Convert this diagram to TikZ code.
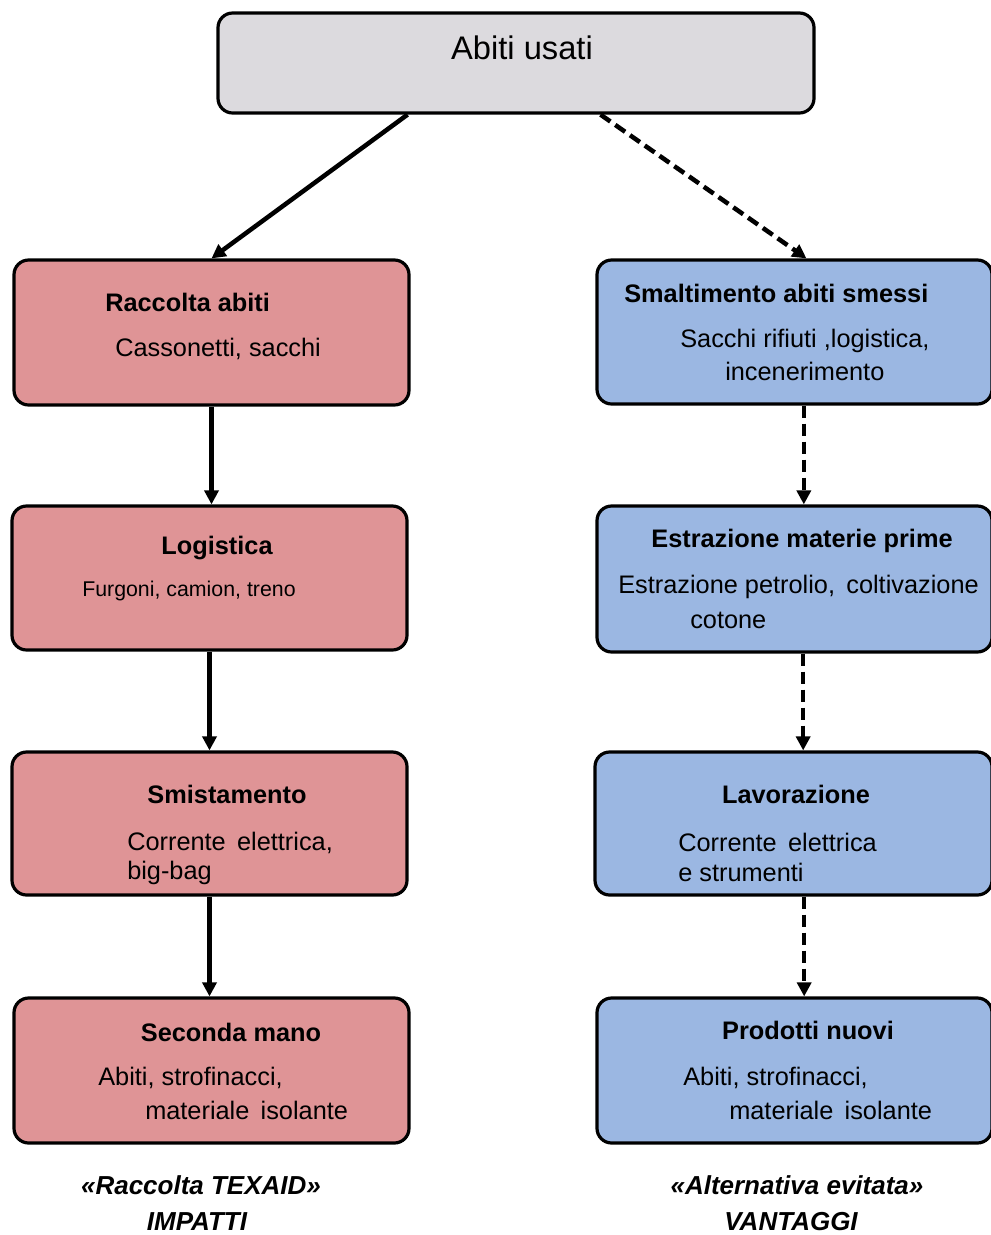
\documentclass[tikz,border=0pt]{standalone}
\usepackage{fontspec}
\setmainfont{Liberation Sans}
\usetikzlibrary{arrows.meta,calc}
\definecolor{pinkbox}{RGB}{223,148,150}
\definecolor{bluebox}{RGB}{155,183,226}
\definecolor{graybox}{RGB}{220,218,222}
\tikzset{
  box/.style={draw=black, line width=2.4pt, rounded corners=11pt, inner sep=0pt},
  pbox/.style={box, fill=pinkbox},
  bbox/.style={box, fill=bluebox},
  gbox/.style={box, fill=graybox},
  ttl/.style={font=\fontsize{19}{22}\selectfont\bfseries, inner sep=0pt},
  sub/.style={font=\fontsize{19}{22}\selectfont, inner sep=0pt, anchor=west},
  subsmall/.style={font=\fontsize{16}{18}\selectfont, inner sep=0pt, anchor=west},
  captxt/.style={font=\fontsize{19.5}{23}\selectfont\bfseries\itshape, inner sep=0pt},
  arr/.style={line width=3.4pt, -{Triangle[length=10.5pt,width=10.5pt]}},
  darr/.style={arr, dash pattern=on 9pt off 4.5pt},
}
\begin{document}
\begin{tikzpicture}[x=0.75pt, y=-0.75pt]
\useasboundingbox (0,0) rectangle (991,1235);
% boxes
\node[gbox, minimum width=596*0.75pt, minimum height=100*0.75pt] (top) at (516,63) {};
\node[pbox, minimum width=395*0.75pt, minimum height=145*0.75pt] (l1) at (211.5,332.5) {};
\node[pbox, minimum width=395*0.75pt, minimum height=144*0.75pt] (l2) at (209.5,578) {};
\node[pbox, minimum width=395*0.75pt, minimum height=143*0.75pt] (l3) at (209.5,823.5) {};
\node[pbox, minimum width=395*0.75pt, minimum height=145*0.75pt] (l4) at (211.5,1070.5) {};
\node[bbox, minimum width=395*0.75pt, minimum height=144*0.75pt] (r1) at (794.5,332) {};
\node[bbox, minimum width=395*0.75pt, minimum height=146*0.75pt] (r2) at (794.5,579) {};
\node[bbox, minimum width=397*0.75pt, minimum height=143*0.75pt] (r3) at (793.5,823.5) {};
\node[bbox, minimum width=395*0.75pt, minimum height=145*0.75pt] (r4) at (794.5,1070.5) {};
% texts
\node[font=\fontsize{24.5}{28}\selectfont, inner sep=0pt] (toptxt) at (522,48) {Abiti usati};
\node[ttl, anchor=west] (l1t) at (105,302) {Raccolta abiti};
\node[sub] (l1s) at (115,349) {Cassonetti, sacchi};
\node[ttl] (l2t) at (217,548) {Logistica};
\node[subsmall] (l2s) at (82,591) {Furgoni, camion, treno};
\node[ttl] (l3t) at (227,794) {Smistamento};
\node[sub] (l3s) at (127,843) {Corrente\,\ elettrica,};
\node[sub] (l3s2) at (127,873) {big-bag};
\node[ttl] (l4t) at (231,1032) {Seconda mano};
\node[sub] (l4s) at (98,1078) {Abiti, strofinacci,};
\node[sub] (l4s2) at (145,1110) {materiale\,\ isolante};
\node[ttl, anchor=west] (r1t) at (624,293) {Smaltimento abiti smessi};
\node[sub] (r1s) at (680,341) {Sacchi rifiuti ,logistica,};
\node[sub] (r1s2) at (725,371) {incenerimento};
\node[ttl] (r2t) at (802,541) {Estrazione materie prime};
\node[sub] (r2s) at (618,587) {Estrazione petrolio,\, coltivazione};
\node[sub] (r2s2) at (690,620) {cotone};
\node[ttl] (r3t) at (796,794) {Lavorazione};
\node[sub] (r3s) at (678,842) {Corrente\,\ elettrica};
\node[sub] (r3s2) at (678,872) {e strumenti};
\node[ttl] (r4t) at (808,1030) {Prodotti nuovi};
\node[sub] (r4s) at (683,1078) {Abiti, strofinacci,};
\node[sub] (r4s2) at (729,1110) {materiale\,\ isolante};
\node[captxt] (c1) at (201,1185) {«Raccolta TEXAID»};
\node[captxt] (c2) at (197,1222) {IMPATTI};
\node[captxt] (c3) at (797,1185) {«Alternativa evitata»};
\node[captxt] (c4) at (791,1222) {VANTAGGI};
% connectors
\draw[arr] ($(top.south west)!0.319!(top.south east)$) -- (l1.north);
\draw[darr] ($(top.south west)!0.641!(top.south east)$) -- ($(r1.north west)!0.53!(r1.north east)$);
\draw[arr] (l1.south) -- (l2.north -| l1.south);
\draw[arr] (l2.south) -- (l3.north);
\draw[arr] (l3.south) -- (l4.north -| l3.south);
\draw[darr] ([xshift=7pt]r1.south) -- ([xshift=7pt]r2.north);
\draw[darr] ([xshift=6.5pt]r2.south) -- ([xshift=7.25pt]r3.north);
\draw[darr] ([xshift=8pt]r3.south) -- ([xshift=7.25pt]r4.north);
\end{tikzpicture}
\end{document}
